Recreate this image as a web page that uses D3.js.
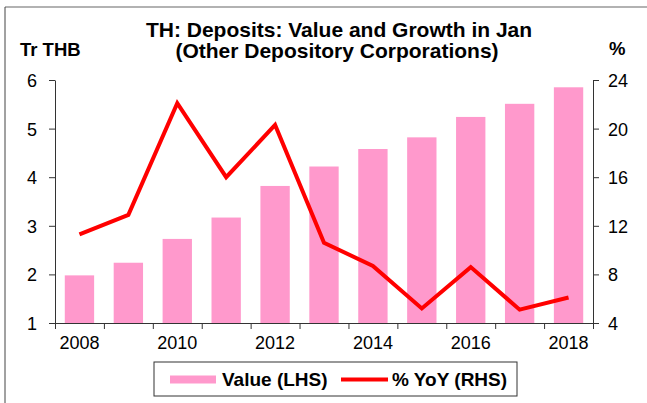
<!DOCTYPE html>
<html>
<head>
<meta charset="utf-8">
<script src="https://cdn.jsdelivr.net/npm/d3@7"></script>
<style>
  body { margin: 0; background: #fff; }
  svg { font-family: "Liberation Sans", Arial, sans-serif; }
  .axis path, .axis line { stroke: #333; }
  .axis text { font-size: 18px; fill: #000; }
</style>
</head>
<body>
<svg id="chart" width="647" height="403"></svg>
<script>
// jaren (categorieen)
const years = [2008, 2009, 2010, 2011, 2012, 2013, 2014, 2015, 2016, 2017, 2018];
// deposito waarde in Tr THB (LHS)
const values = [1.98, 2.24, 2.73, 3.17, 3.82, 4.22, 4.58, 4.82, 5.24, 5.51, 5.85];
// groei % YoY (RHS)
const growth = [11.3, 12.9, 22.1, 16.0, 20.3, 10.6, 8.7, 5.2, 8.6, 5.1, 6.1];
// tick labels
const leftTicks = [1, 2, 3, 4, 5, 6];
const rightTicks = [4, 8, 12, 16, 20, 24];
const yearLabels = [2008, 2010, 2012, 2014, 2016, 2018];

const svg = d3.select("#chart");
const plotLeft = 55, plotRight = 593, plotTop = 80, plotBottom = 323;

// frame
svg.append("line").attr("x1", 5).attr("x2", 647).attr("y1", 7).attr("y2", 7)
  .attr("stroke", "#999").attr("stroke-width", 1.5);
svg.append("line").attr("x1", 5).attr("x2", 5).attr("y1", 7).attr("y2", 403)
  .attr("stroke", "#444").attr("stroke-width", 1);

// scales
const x = d3.scaleBand().domain(years).range([plotLeft, plotRight])
  .paddingInner(0.4).paddingOuter(0.2);
const yL = d3.scaleLinear().domain([1, 6]).range([plotBottom, plotTop]);
const yR = d3.scaleLinear().domain([4, 24]).range([plotBottom, plotTop]);

// bars
svg.append("g").selectAll("rect").data(years).join("rect")
  .attr("x", (d) => x(d))
  .attr("width", x.bandwidth())
  .attr("y", (d, i) => yL(values[i]))
  .attr("height", (d, i) => yL(1) - yL(values[i]))
  .attr("fill", "#ff99cc");

// lijn
const line = d3.line()
  .x((d, i) => x(years[i]) + x.bandwidth() / 2)
  .y((d) => yR(d));
svg.append("path").datum(growth)
  .attr("d", line)
  .attr("fill", "none")
  .attr("stroke", "#ff0000")
  .attr("stroke-width", 4)
  .attr("stroke-linejoin", "miter");

// assen
svg.append("g").attr("class", "axis")
  .attr("transform", `translate(${plotLeft},0)`)
  .call(d3.axisLeft(yL).tickValues(leftTicks).tickFormat(d3.format("d"))
    .tickSize(6).tickSizeOuter(0).tickPadding(12))
  .selectAll("text").attr("dy", "0.36em");

svg.append("g").attr("class", "axis")
  .attr("transform", `translate(${plotRight},0)`)
  .call(d3.axisRight(yR).tickValues(rightTicks).tickFormat(d3.format("d"))
    .tickSize(6).tickSizeOuter(0).tickPadding(9))
  .selectAll("text").attr("dy", "0.36em");

// x-as: streepjes op de grenzen
const xEdge = d3.scaleLinear().domain([0, years.length]).range([plotLeft, plotRight]);
svg.append("g").attr("class", "axis")
  .attr("transform", `translate(0,${plotBottom})`)
  .call(d3.axisBottom(xEdge).tickValues(d3.range(years.length + 1)).tickFormat("").tickSize(6).tickSizeOuter(0));

svg.append("g").selectAll("text").data(yearLabels).join("text")
  .attr("x", (d) => x(d) + x.bandwidth() / 2)
  .attr("y", 349)
  .attr("text-anchor", "middle")
  .attr("font-size", 18)
  .text((d) => d);

// titel
const title = svg.append("text").attr("text-anchor", "middle")
  .attr("font-weight", "bold").attr("font-size", 21);
title.append("tspan").attr("x", 339).attr("y", 37).text("TH: Deposits: Value and Growth in Jan");
title.append("tspan").attr("x", 337).attr("y", 58).text("(Other Depository Corporations)");

svg.append("text").attr("x", 20).attr("y", 56).attr("font-weight", "bold")
  .attr("font-size", 18.5).text("Tr THB");
svg.append("text").attr("x", 609).attr("y", 55).attr("font-weight", "bold")
  .attr("font-size", 18.5).text("%");

// legenda
const lg = svg.append("g");
lg.append("rect").attr("x", 154).attr("y", 362).attr("width", 363).attr("height", 34)
  .attr("fill", "#fff").attr("stroke", "#333").attr("stroke-width", 1);
lg.append("rect").attr("x", 170).attr("y", 375.5).attr("width", 46).attr("height", 8)
  .attr("fill", "#ff99cc");
lg.append("text").attr("x", 222).attr("y", 386).attr("font-weight", "bold")
  .attr("font-size", 19).text("Value (LHS)");
lg.append("line").attr("x1", 341).attr("x2", 388).attr("y1", 379.5).attr("y2", 379.5)
  .attr("stroke", "#ff0000").attr("stroke-width", 4);
lg.append("text").attr("x", 392).attr("y", 386).attr("font-weight", "bold")
  .attr("font-size", 19).text("% YoY (RHS)");
</script>
</body>
</html>
